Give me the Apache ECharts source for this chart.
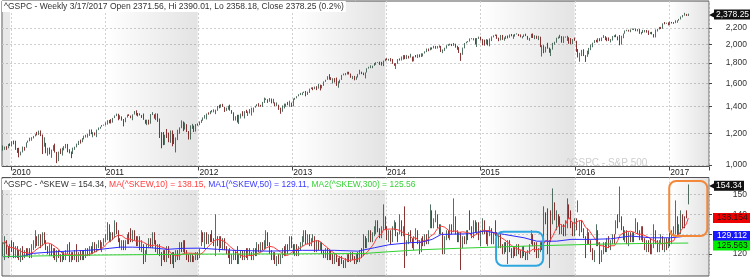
<!DOCTYPE html>
<html><head><meta charset="utf-8">
<script src="https://cdn.jsdelivr.net/npm/echarts@6/dist/echarts.min.js"></script>
<style>html,body{margin:0;padding:0;background:#fff}#c{width:750px;height:277px}</style>
</head><body><div id="c"></div>
<script>
// ================= DATA =================
const firstWeek = '2009-12-04';   // first weekly bar (Friday)
const futureWeeks = 11;           // empty weeks shown to the right of the last bar
const spxTitle = '^GSPC - Weekly 3/17/2017 Open 2371.56, Hi 2390.01, Lo 2358.18, Close 2378.25 (0.2%)';
const watermark = '^GSPC - S&P 500';
const spxFirstOpen = 1092;
const spxLastTag = 2378.25;
const spxTicks = [1000, 1200, 1400, 1600, 1800, 2000, 2200];
const skewTicks = [120, 130, 140, 150];

// S&P 500 weekly closes
const spxClose = [
1106,1106,1102,1127,1115,
1145,1136,1092,1074,1066,1075,1109,1105,1139,1150,1160,1167,1179,1194,1192,1217,1187,1111,1136,1088,1089,1065,1092,1117,1076,1023,1078,1065,1102,1102,1121,1079,1071,1065,1105,1110,1126,1149,1146,1166,1176,1183,1183,1225,1200,1200,1190,1225,1240,1244,1257,1258,
1272,1293,1283,1276,1311,1329,1343,1320,1321,1304,1279,1314,1332,1328,1320,1337,1364,1340,1338,1333,1331,1300,1271,1272,1268,1340,1344,1316,1346,1292,1199,1179,1124,1177,1174,1154,1216,1136,1131,1155,1225,1238,1285,1253,1264,1216,1159,1244,1255,1219,1265,1258,
1278,1289,1315,1316,1345,1343,1362,1366,1370,1371,1404,1397,1408,1398,1370,1378,1403,1369,1353,1295,1318,1278,1325,1343,1335,1362,1355,1357,1363,1386,1391,1405,1418,1411,1407,1438,1466,1460,1441,1461,1429,1433,1411,1414,1380,1359,1409,1416,1418,1413,1430,1402,
1466,1472,1486,1503,1513,1518,1520,1516,1518,1551,1561,1556,1569,1553,1588,1555,1582,1614,1633,1667,1650,1631,1643,1626,1593,1606,1632,1680,1692,1692,1710,1691,1656,1664,1633,1655,1688,1710,1692,1690,1703,1745,1759,1762,1771,1798,1805,1806,1805,1775,1818,1841,
1831,1842,1839,1790,1783,1797,1838,1836,1859,1878,1841,1866,1857,1865,1815,1864,1863,1881,1878,1878,1900,1924,1950,1937,1963,1961,1985,1968,1978,1979,1925,1931,1955,1988,2003,2008,1985,2010,1982,1967,1906,1887,1964,2018,2032,2039,2064,2068,2075,2002,2071,2088,
2058,2045,2019,2051,1995,2055,2097,2110,2104,2071,2053,2108,2061,2067,2102,2081,2117,2108,2116,2123,2126,2107,2092,2094,2110,2102,2077,2077,2127,2080,2104,2078,2092,1971,1989,1921,1961,1958,1931,1951,2015,2033,2075,2079,2100,2023,2089,2090,2092,2012,2006,2061,2044,
1922,1880,1907,1940,1880,1865,1918,1948,2000,2022,2050,2035,2073,2048,2081,2092,2065,2057,2047,2053,2099,2099,2096,2071,2037,2103,2130,2162,2175,2174,2183,2184,2184,2169,2180,2128,2139,2165,2168,2153,2133,2141,2126,2085,2164,2182,2213,2192,2260,2258,2264,2239,
2277,2275,2271,2295,2297,2316,2351,2367,2383,2373,2378.25
];
// S&P 500 weekly highs
const spxHigh = [
1119,1112,1114,1129,1133,
1146,1151,1150,1103,1104,1080,1112,1110,1139,1151,1170,1174,1182,1194,1210,1219,1220,1192,1173,1136,1104,1106,1093,1121,1131,1078,1080,1099,1104,1115,1129,1129,1095,1081,1105,1111,1131,1149,1157,1167,1184,1190,1196,1227,1227,1208,1206,1226,1241,1246,1259,1262,
1278,1294,1296,1302,1311,1330,1344,1343,1332,1323,1303,1314,1337,1339,1329,1338,1364,1370,1349,1346,1334,1345,1298,1298,1298,1341,1356,1339,1347,1345,1307,1208,1209,1190,1230,1205,1220,1220,1195,1172,1225,1242,1293,1285,1277,1265,1216,1256,1267,1255,1266,1270,
1285,1297,1315,1333,1345,1354,1364,1372,1378,1375,1405,1414,1419,1422,1398,1391,1406,1415,1372,1354,1324,1335,1335,1344,1363,1363,1374,1362,1380,1391,1392,1406,1419,1427,1414,1438,1474,1466,1460,1470,1466,1464,1434,1434,1415,1391,1409,1424,1424,1438,1448,1432,
1466,1472,1486,1503,1514,1518,1525,1531,1525,1552,1563,1564,1570,1574,1594,1588,1585,1618,1633,1667,1687,1658,1648,1649,1654,1620,1635,1680,1693,1698,1710,1710,1693,1670,1670,1664,1689,1730,1711,1702,1704,1745,1760,1775,1771,1799,1807,1808,1813,1811,1824,1844,
1849,1843,1850,1841,1795,1798,1840,1847,1867,1883,1882,1884,1875,1897,1866,1869,1884,1891,1891,1902,1901,1924,1955,1955,1968,1968,1986,1985,1983,1991,1985,1945,1964,1993,2005,2011,2008,2019,2010,1986,1971,1907,1966,2018,2034,2041,2072,2075,2076,2075,2077,2094,
2093,2064,2057,2064,2058,2072,2097,2110,2119,2118,2081,2114,2114,2084,2103,2107,2120,2126,2117,2126,2134,2126,2121,2099,2120,2129,2102,2078,2128,2132,2111,2105,2103,2093,1993,1993,1976,2021,1965,1952,2020,2033,2080,2094,2116,2100,2097,2095,2104,2086,2076,2064,2082,
2044,1950,1908,1940,1947,1882,1931,1962,2000,2022,2052,2056,2075,2075,2084,2112,2100,2084,2084,2065,2101,2111,2120,2096,2113,2104,2131,2169,2178,2178,2183,2194,2193,2193,2187,2187,2152,2176,2175,2175,2169,2149,2152,2125,2182,2189,2214,2214,2260,2278,2268,2273,
2283,2279,2276,2301,2300,2319,2351,2371,2401,2386,2390.01
];
// S&P 500 weekly lows
const spxLow = [
1086,1091,1091,1101,1115,
1114,1126,1091,1072,1045,1057,1075,1086,1105,1137,1146,1150,1165,1179,1186,1188,1181,1065,1111,1070,1055,1063,1042,1085,1074,1011,1022,1065,1056,1088,1101,1076,1069,1040,1065,1091,1107,1122,1131,1140,1159,1171,1171,1182,1194,1173,1185,1174,1222,1232,1246,1254,
1257,1262,1271,1270,1276,1310,1325,1294,1302,1291,1249,1279,1314,1326,1309,1294,1337,1330,1323,1330,1311,1297,1268,1258,1262,1268,1333,1306,1295,1282,1168,1101,1121,1123,1168,1140,1136,1114,1128,1075,1154,1197,1236,1215,1226,1209,1158,1158,1231,1209,1212,1254,
1258,1274,1290,1306,1300,1336,1340,1354,1354,1340,1366,1386,1391,1397,1357,1365,1375,1367,1343,1291,1292,1277,1266,1307,1324,1307,1349,1326,1345,1329,1354,1391,1402,1400,1398,1397,1429,1455,1430,1439,1426,1426,1403,1403,1373,1343,1358,1385,1398,1411,1398,1398,
1402,1456,1468,1485,1496,1495,1514,1485,1497,1514,1548,1538,1547,1539,1552,1536,1554,1577,1614,1633,1635,1630,1598,1608,1577,1560,1604,1632,1676,1676,1684,1684,1652,1639,1628,1633,1655,1684,1687,1677,1646,1703,1742,1746,1746,1770,1780,1800,1779,1772,1767,1817,
1827,1823,1815,1790,1770,1738,1790,1824,1825,1834,1839,1840,1846,1856,1814,1816,1859,1851,1859,1862,1868,1900,1915,1925,1935,1944,1957,1952,1955,1965,1916,1904,1928,1955,1985,1991,1983,1985,1965,1941,1906,1821,1886,1957,2014,2027,2035,2062,2049,2002,1973,2066,
2047,1992,1988,2004,1990,1980,2041,2085,2103,2067,2039,2049,2055,2045,2066,2072,2080,2098,2067,2094,2120,2100,2085,2072,2090,2100,2056,2044,2078,2077,2063,2067,2052,1971,1867,1903,1911,1953,1908,1872,1943,1999,2022,2069,2076,2022,2019,2082,2042,2009,2005,2005,2043,
1918,1857,1812,1872,1872,1810,1864,1891,1937,1969,2018,2027,2023,2039,2040,2078,2052,2039,2043,2025,2047,2087,2087,2050,1992,2000,2074,2129,2160,2155,2148,2177,2174,2160,2158,2128,2120,2138,2145,2142,2114,2125,2121,2083,2084,2156,2181,2187,2192,2248,2254,2234,
2238,2258,2254,2263,2268,2295,2311,2339,2362,2358,2358.18
];

// CBOE SKEW weekly candles: [open, close, low, high]
const skewCandles = [
[121,125,119,126],[118,128,117,129],[126,122,120,127],[122,119,118,124],[120,124,119,125],
// 2010
[126,122,121,127],[125,119,118,126],[119,123,118,124],[123,120,118,124],[120,118,117,122],[118,122,116,123],[122,119,117,124],[119,121,118,122],[121,120,119,123],[120,122,119,123],
[122,119,118,123],[119,124,118,125],[124,126,122,127],[124,128,123,132],[128,125,124,129],[125,129,124,130],[129,124,123,130],[125,130,124,131],[130,126,125,131],[126,123,122,127],
[123,121,120,124],[121,124,119,125],[124,120,119,125],[120,122,118,123],[122,118,117,123],[118,121,116,122],[121,119,118,122],[119,117,116,120],[117,120,116,121],[120,118,117,121],
[118,121,117,122],[121,124,120,125],[125,117,116,126],[117,120,116,121],[120,118,117,121],[118,121,117,122],[124,117,116,125],[117,120,116,121],[120,118,117,122],[118,121,117,122],
[121,119,117,122],[119,122,118,123],[122,120,119,123],[120,123,119,124],[123,121,120,124],[121,125,120,126],[125,122,121,126],[122,124,121,125],[124,126,123,127],[126,123,122,127],
[123,125,121,126],[125,127,124,128],
// 2011
[127,129,126,130],[128,135,127,136],[134,127,126,135],[127,130,126,131],[130,128,127,131],[129,136,128,137],[135,131,130,136],[131,127,126,132],[127,124,123,128],[124,126,122,127],
[126,123,122,127],[123,126,122,127],[126,129,125,130],[129,126,125,131],[132,127,126,133],[127,131,126,132],[131,128,127,132],[128,125,124,129],[125,128,124,129],[128,123,122,129],
[123,126,121,127],[124,116,115,125],[117,121,116,122],[121,124,120,125],[124,127,123,128],[127,124,123,128],[124,130,123,131],[130,126,125,131],[126,122,121,127],[122,124,120,125],
[124,120,119,125],[120,118,114,121],[118,121,117,122],[121,117,116,122],[117,123,116,124],[123,119,118,124],[119,116,115,120],[116,120,115,121],[120,117,113,121],[117,121,116,122],
[121,118,117,122],[118,125,117,126],[125,122,121,126],[122,126,121,127],[126,121,120,127],[121,118,117,122],[118,117,116,120],[117,119,116,120],[119,117,116,120],[117,118,116,119],
[118,120,117,121],[120,119,117,121],
// 2012
[119,122,118,123],[125,131,124,132],[130,127,126,131],[124,130,123,131],[130,126,125,131],[126,129,125,130],[129,127,126,130],[131,127,126,132],[127,125,124,128],[125,128,119,140],
[128,126,124,129],[122,128,121,129],[128,124,123,129],[124,127,122,128],[127,123,122,128],[123,121,120,124],[121,119,118,122],[122,116,115,123],[116,119,115,120],[119,121,117,122],
[121,118,117,122],[123,116,115,124],[116,119,115,120],[119,121,118,122],[121,118,117,122],[118,121,117,122],[121,119,118,123],[119,122,117,123],[122,120,119,123],[120,118,117,121],
[118,122,117,123],[122,120,119,123],[120,124,119,126],[124,122,121,125],[122,125,121,126],[125,123,122,126],[123,126,122,127],[124,131,123,132],[130,125,124,131],[125,121,120,126],
[121,118,117,122],[118,120,117,121],[120,116,115,121],[116,118,114,119],[118,116,115,120],[116,119,115,120],[119,122,118,123],[122,120,119,124],[120,124,119,125],[124,121,120,125],
[123,128,122,129],[128,124,123,129],
// 2013
[124,121,120,125],[121,124,119,125],[124,120,119,125],[120,123,119,124],[123,125,122,126],[125,128,124,129],[127,131,126,132],[131,126,125,132],[126,129,125,130],[129,125,124,130],
[125,127,124,128],[127,129,126,130],[128,122,121,129],[122,126,121,127],[126,123,122,127],[123,125,122,126],[125,121,120,126],[121,119,118,122],[119,122,118,123],[122,118,117,123],
[118,121,117,122],[121,119,117,122],[119,116,115,120],[116,119,115,120],[119,117,116,120],[117,115,114,118],[115,118,114,119],[118,116,115,119],[116,114,113,117],[114,117,113,118],
[117,119,116,120],[119,117,116,120],[117,120,116,121],[120,118,117,121],[118,116,115,119],[116,119,115,120],[119,117,116,121],[117,121,116,122],[121,119,118,123],[120,129,119,130],
[128,124,123,129],[124,127,123,128],[127,131,126,132],[131,127,126,132],[127,130,126,131],[130,133,129,134],[131,136,130,137],[136,132,131,137],[132,129,128,133],[129,133,128,134],
[133,144,132,145],[138,133,132,139],
// 2014
[133,128,127,134],[128,131,126,132],[131,127,125,132],[127,133,126,134],[133,136,132,137],[135,130,129,136],[130,127,126,131],[131,139,130,140],[136,130,129,137],[130,133,129,134],
[143,114,113,144],[120,126,119,127],[126,130,125,131],[130,127,126,132],[127,124,123,128],[124,128,122,129],[128,132,127,133],[131,126,125,132],[126,122,120,127],[122,127,121,128],
[127,125,124,129],[125,129,124,130],[129,126,125,130],[126,131,125,132],[134,144,133,145],[141,134,133,142],[134,137,133,138],[137,141,136,142],[139,134,133,140],[134,131,130,135],
[131,134,130,135],[130,121,120,131],[121,128,120,129],[128,131,127,132],[131,129,128,132],[128,134,127,135],[134,131,130,135],[132,147,131,148],[138,131,130,139],[131,127,126,132],
[127,130,126,131],[130,124,112,131],[124,128,123,129],[128,126,125,129],[126,131,125,132],[131,128,127,132],[141,133,132,142],[133,129,128,134],[129,136,128,137],[136,132,131,137],
[132,135,130,136],[135,128,127,136],
// 2015
[128,131,124,132],[131,137,130,138],[136,131,130,137],[131,126,125,132],[126,130,124,131],[130,133,129,134],[132,126,125,133],[126,130,125,131],[136,130,129,137],[130,125,124,131],
[125,129,123,130],[129,124,123,130],[124,121,120,125],[121,125,120,126],[125,122,121,126],[116,126,115,127],[126,122,121,127],[122,119,118,123],[119,123,118,124],[123,120,119,124],
[120,124,119,125],[124,121,120,125],[121,119,118,122],[119,123,118,124],[123,120,119,124],[120,118,117,121],[118,121,117,122],[121,123,120,125],[126,131,125,132],[129,125,124,130],
[125,122,121,126],[125,119,118,126],[119,122,118,123],[122,125,121,126],[125,123,122,126],[124,143,123,144],[140,136,135,141],[142,121,120,143],[121,126,113,127],[141,127,126,142],
[136,152,135,153],[145,138,137,146],[133,141,132,142],[139,135,134,140],[138,131,130,139],[131,134,130,135],[134,130,129,135],[130,136,129,137],[134,147,133,148],[144,139,138,145],
[141,134,133,142],[134,130,129,136],[130,137,129,138],
// 2016
[137,133,132,138],[142,146,141,147],[130,136,129,137],[136,132,131,137],[132,129,128,133],[128,119,118,129],[126,132,125,133],[130,126,125,131],[126,122,121,127],[122,118,117,123],
[118,121,116,122],[125,134,124,135],[131,125,124,132],[125,117,115,126],[117,121,116,122],[121,125,120,126],[125,122,121,126],[122,127,121,128],[127,124,123,129],[124,126,122,127],
[126,129,125,130],[129,126,125,130],[131,136,130,137],[139,134,133,140],[137,144,136,154],[138,133,132,139],[133,128,127,134],[128,131,126,132],[131,126,125,132],[126,130,124,131],
[130,127,126,131],[127,130,126,131],[130,127,126,131],[132,137,131,138],[135,131,130,136],[131,128,127,132],[128,133,127,134],[133,127,126,134],[127,123,122,128],[123,126,121,127],
[126,122,121,127],[127,121,120,128],[121,124,120,125],[124,134,123,135],[131,126,125,132],[126,122,121,127],[122,126,121,127],[126,129,125,130],[128,123,122,129],[123,127,121,128],
[127,124,122,128],[124,127,123,128],
// 2017
[130,125,124,131],[126,131,125,132],[131,133,129,134],[131,146,130,147],[138,131,129,139],[130,134,129,135],[131,141,130,142],[140,138,133,140],[138,134,133,139],[141,139,138,142],
[146,154.34,145,155]
];

// Moving averages: [week index, value]
const ma50Points = [[0,118.7],[10,118.8],[17,120.4],[26,121.0],[36,121.5],[47,121.9],[54,122.4],[59,122.9],[65,123.5],[72,123.5],[82,123.2],[91,122.4],[100,122.9],[109,123.0],[119,122.4],[128,121.9],[147,121.5],[166,121.9],[184,121.9],[197,121.5],[206,123.2],[214,124.7],[225,125.7],[232,126.0],[238,127.4],[243,129.9],[258,130.2],[267,131.6],[278,129.9],[289,128.2],[296,126.5],[307,126.5],[315,127.4],[326,127.4],[337,127.7],[348,129.1],[359,128.2],[370,128.2],[380,129.11]];
const ma300Points = [[0,118.8],[50,119.5],[110,120.0],[160,120.1],[200,120.3],[214,121.2],[232,122.2],[258,123.1],[296,124.2],[330,125.0],[360,125.4],[380,125.56]];
const ma10Period = 10;

const legendText = {
  skew: '^GSPC - ^SKEW = 154.34, ',
  ma10: 'MA(^SKEW,10) = 138.15, ',
  ma50: 'MA1(^SKEW,50) = 129.11, ',
  ma300: 'MA2(^SKEW,300) = 125.56'
};
const tags = { skew: 154.34, ma10: 138.154, ma50: 129.112, ma300: 125.563 };
const tagText = { skew: '154.34', ma10: '138.154', ma50: '129.112', ma300: '125.563' };

// annotation boxes (week index range, value range) on the SKEW panel
const boxes = [
  { from: 274, to: 299, top: 131.2, bottom: 114.1, color: '#2ea6df' },
  { from: 370, to: 390, top: 156.8, bottom: 129.1, color: '#f4883a' }
];
const shadedYears = ['2009', '2011', '2013', '2015', '2017'];

// ================= BUILD =================
const FONT = '"Liberation Sans", Arial, sans-serif';
const FS = 8.5;
const categories = [];
{
  let t = Date.UTC(+firstWeek.slice(0,4), +firstWeek.slice(5,7)-1, +firstWeek.slice(8,10));
  for (let i = 0; i < spxClose.length + futureWeeks; i++) {
    let d = new Date(t);
    if (d.getUTCMonth() === 0 && d.getUTCDate() === 1) d = new Date(t - 86400000);
    categories.push(d.toISOString().slice(0,10));
    t += 7 * 86400000;
  }
}
const yearOf = i => categories[i].slice(0,4);
const isYearStart = i => i > 0 && i < categories.length && yearOf(i) !== yearOf(i-1);

const spxRows = spxClose.map((c, i) => {
  const o = i === 0 ? spxFirstOpen : spxClose[i-1];
  return [Math.log10(o), Math.log10(c), Math.log10(spxLow[i]), Math.log10(spxHigh[i])];
});
const skewCloses = skewCandles.map(r => r[1]);
const ma10 = skewCloses.map((v, i) => {
  const s = skewCloses.slice(Math.max(0, i - ma10Period + 1), i + 1);
  return +(s.reduce((a, b) => a + b, 0) / s.length).toFixed(2);
});

function yearAreas() {
  const out = [];
  shadedYears.forEach(y => {
    const idx = categories.map((c, i) => c.slice(0,4) === y ? i : -1).filter(i => i >= 0);
    if (!idx.length) return;
    const first = idx[0], last = idx[idx.length-1];
    const solid = first === 0;
    out.push([{ xAxis: categories[first], itemStyle: { color: solid ? 'rgba(0,0,0,0.09)' :
      new echarts.graphic.LinearGradient(0,0,1,0,[{offset:0,color:'rgba(0,0,0,0)'},{offset:1,color:'rgba(0,0,0,0.11)'}]) } },
      { xAxis: categories[last] }]);
  });
  return out;
}
const markAreaCfg = { silent: true, z: 1, data: yearAreas() };

const SPX_MIN = 2.99625, SPX_MAX = 3.41, SK_MIN = 109, SK_MAX = 158.5;

// right-hand value tags, drawn as extra axes that show a single label
function tagAxis(grid, min, max, value, text, bg, fg, margin, pad) {
  return { type: 'value', gridIndex: grid, position: 'right', min, max, z: 10,
    axisLine: { show: false }, axisTick: { show: false }, splitLine: { show: false },
    axisLabel: { show: true, customValues: [value], formatter: () => text, align: 'left', margin,
      backgroundColor: bg, color: fg, fontSize: FS, fontFamily: FONT, padding: pad, lineHeight: 9 } };
}
function arrowAxis(grid, min, max, value, color) {
  return { type: 'value', gridIndex: grid, position: 'right', min, max, z: 11,
    axisLine: { show: false }, axisTick: { show: false }, splitLine: { show: false },
    axisLabel: { show: true, customValues: [value], formatter: () => '◀', align: 'left', margin: 0,
      color, fontSize: 8, fontFamily: 'DejaVu Sans', padding: 0 } };
}

const candleStyle = {
  color: '#3f7e5f', color0: '#b40000',
  borderColor: '#274d3a', borderColor0: '#6a0000', borderWidth: 0.8
};
const gridLine = { show: true, lineStyle: { color: '#cfcfcf', type: [2, 2], width: 1 } };

const option = {
  animation: false,
  textStyle: { fontFamily: FONT },
  title: [
    { text: spxTitle, left: 2, top: 1, padding: [1,2], backgroundColor: '#fff', z: 10,
      textStyle: { fontSize: FS, color: '#333', fontWeight: 'normal', fontFamily: FONT } },
    { text: watermark, left: 566, top: 158, padding: 0, z: 1,
      textStyle: { fontSize: 10, color: '#cdcdcd', fontWeight: 'normal', fontFamily: FONT } }
  ],
  grid: [
    { left: 2, right: 41, top: 1, height: 165.5, show: true, borderColor: '#555', borderWidth: 1, backgroundColor: '#fff', outerBoundsMode: 'none', containLabel: false },
    { left: 2, right: 41, top: 177.5, bottom: 1, show: true, borderColor: '#555', borderWidth: 1, backgroundColor: '#fff', outerBoundsMode: 'none', containLabel: false }
  ],
  xAxis: [
    { type: 'category', gridIndex: 0, data: categories, boundaryGap: true,
      axisLine: { show: false },
      axisTick: { show: true, inside: false, length: 4, interval: (i) => isYearStart(i), lineStyle: { color: '#444' } },
      axisLabel: { show: true, interval: (i) => isYearStart(i), formatter: v => v.slice(0,4), align: 'left',
        margin: 2, fontSize: FS, color: '#222', fontFamily: FONT, hideOverlap: false },
      splitLine: { show: true, interval: (i) => isYearStart(i), lineStyle: { color: '#cfcfcf', type: [2,2] } } },
    { type: 'category', gridIndex: 1, data: categories, boundaryGap: true,
      axisLine: { show: false }, axisTick: { show: false, interval: (i) => isYearStart(i) }, axisLabel: { show: false },
      splitLine: { show: true, interval: (i) => isYearStart(i), lineStyle: { color: '#cfcfcf', type: [2,2] } } }
  ],
  yAxis: [
    { type: 'value', gridIndex: 0, position: 'right', min: SPX_MIN, max: SPX_MAX,
      axisLine: { show: false },
      axisTick: { show: true, length: 3, customValues: spxTicks.map(v => Math.log10(v)), lineStyle: { color: '#444' } },
      axisLabel: { show: true, customValues: spxTicks.map(v => Math.log10(v)), align: 'right', margin: 38,
        fontSize: FS, color: '#333', fontFamily: FONT,
        formatter: v => Math.round(Math.pow(10, v)).toLocaleString('en-US') },
      splitLine: gridLine },
    { type: 'value', gridIndex: 1, position: 'right', min: SK_MIN, max: SK_MAX,
      axisLine: { show: false },
      axisTick: { show: true, length: 3, customValues: skewTicks, lineStyle: { color: '#444' } },
      axisLabel: { show: true, customValues: skewTicks, align: 'right', margin: 38, fontSize: FS, color: '#333', fontFamily: FONT },
      splitLine: gridLine },
    // tags
    tagAxis(0, SPX_MIN, SPX_MAX, Math.log10(spxLastTag), spxLastTag.toLocaleString('en-US', {minimumFractionDigits: 2}), '#111', '#fff', 5, [1,2,0,2]),
    arrowAxis(0, SPX_MIN, SPX_MAX, Math.log10(spxLastTag), '#111'),
    tagAxis(1, SK_MIN, SK_MAX, tags.skew, tagText.skew, '#111', '#fff', 5, [1,2,0,2]),
    arrowAxis(1, SK_MIN, SK_MAX, tags.skew, '#111'),
    tagAxis(1, SK_MIN, SK_MAX, tags.ma10, tagText.ma10, '#ee0000', '#1a1a1a', 4, [1,5,0,4]),
    tagAxis(1, SK_MIN, SK_MAX, tags.ma50, tagText.ma50, '#1818ff', '#ffffff', 4, [1,5,0,4]),
    tagAxis(1, SK_MIN, SK_MAX, tags.ma300 - 1.2, tagText.ma300, '#00ee00', '#111111', 4, [1,5,0,4])
  ],
  series: [
    { name: 'SPX', type: 'candlestick', xAxisIndex: 0, yAxisIndex: 0, data: spxRows, barWidth: '65%', z: 3,
      itemStyle: candleStyle, markArea: markAreaCfg },
    { name: 'SKEW', type: 'candlestick', xAxisIndex: 1, yAxisIndex: 1, data: skewCandles, barWidth: '70%', z: 3,
      itemStyle: candleStyle, markArea: markAreaCfg },
    { name: 'MA10', type: 'line', xAxisIndex: 1, yAxisIndex: 1, data: ma10, symbol: 'none', z: 4,
      lineStyle: { color: '#ff3a3a', width: 1 } },
    { name: 'MA50', type: 'line', xAxisIndex: 1, yAxisIndex: 1, data: ma50Points, symbol: 'none', z: 4,
      lineStyle: { color: '#2b2bff', width: 1 } },
    { name: 'MA300', type: 'line', xAxisIndex: 1, yAxisIndex: 1, data: ma300Points, symbol: 'none', z: 4,
      lineStyle: { color: '#2fd22f', width: 1 } }
  ]
};

const chart = echarts.init(document.getElementById('c'), null, { renderer: 'canvas', width: 750, height: 277 });
chart.setOption(option);

// annotation boxes placed from data coordinates + the coloured legend line of the SKEW panel
const graphics = boxes.map(b => {
  const p1 = chart.convertToPixel({ xAxisIndex: 1, yAxisIndex: 1 }, [b.from, b.top]);
  const p2 = chart.convertToPixel({ xAxisIndex: 1, yAxisIndex: 1 }, [b.to, b.bottom]);
  return { type: 'rect', z: 100, silent: true,
    shape: { x: p1[0] - 1, y: p1[1], width: p2[0] - p1[0] + 2, height: p2[1] - p1[1], r: 7 },
    style: { fill: 'none', stroke: b.color, lineWidth: 2 } };
});
graphics.push({ type: 'text', left: 2, top: 179, z: 100, silent: true,
  style: { text: '{k|' + legendText.skew + '}{r|' + legendText.ma10 + '}{b|' + legendText.ma50 + '}{g|' + legendText.ma300 + '}',
    fontSize: FS, fontFamily: FONT, backgroundColor: '#fff', padding: [1, 2],
    rich: { k: { fill: '#333', fontSize: FS, fontFamily: FONT }, r: { fill: '#ff4040', fontSize: FS, fontFamily: FONT },
            b: { fill: '#3b3bff', fontSize: FS, fontFamily: FONT }, g: { fill: '#39d139', fontSize: FS, fontFamily: FONT } } } });
chart.setOption({ graphic: graphics });
</script>
</body></html>
